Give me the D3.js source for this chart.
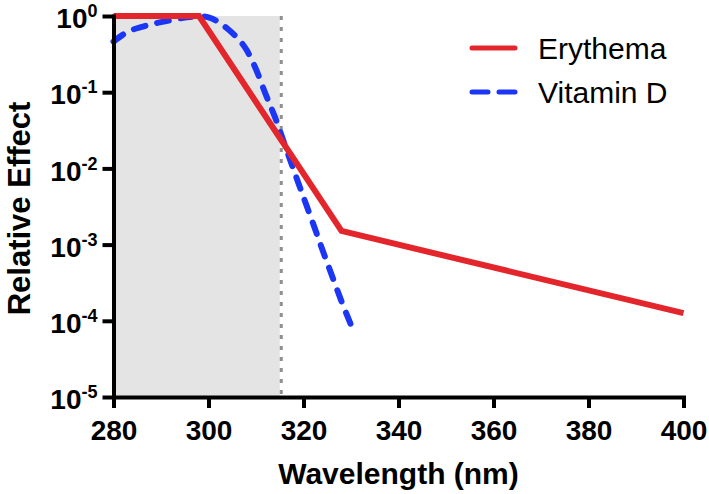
<!DOCTYPE html>
<html>
<head>
<meta charset="utf-8">
<script src="https://cdn.jsdelivr.net/npm/d3@7"></script>
<style>
  html, body { margin: 0; padding: 0; background: #fff; }
  svg { display: block; }
  text { font-family: "Liberation Sans", Arial, Helvetica, sans-serif; }
</style>
</head>
<body>
<svg id="chart" width="709" height="494"></svg>
<script>
// ---- data ----
const erythemaWavelength = [280, 298, 328, 400];
const erythemaValue      = [1, 1, 0.00151, 0.000126];

const vitDWavelength = [280, 282, 284, 286, 288, 290, 292, 294, 296, 298, 300, 302, 304, 306, 308, 310, 312, 314, 316, 318, 320, 322, 324, 326, 328, 330];
const vitDValue      = [0.46, 0.57, 0.66, 0.72, 0.78, 0.83, 0.88, 0.93, 0.97, 1.0, 0.96, 0.84, 0.68, 0.52, 0.36, 0.2, 0.095, 0.047, 0.021, 0.0093, 0.0042, 0.0019, 0.00085, 0.00039, 0.00018, 0.000088];

const xTicks = [280, 300, 320, 340, 360, 380, 400];
const yTicks = [1, 0.1, 0.01, 0.001, 0.0001, 0.00001];
const yTickExponents = ["0", "-1", "-2", "-3", "-4", "-5"];
const shadeRange = [280, 315];
const seriesNames = ["Erythema", "Vitamin D"];
const xTitle = "Wavelength (nm)";
const yTitle = "Relative Effect";

// ---- layout ----
const svg = d3.select("#chart");
const x = d3.scaleLinear().domain([280, 400]).range([113.5, 683.5]);
const y = d3.scaleLog().domain([1e-5, 1]).range([397, 16]);

const red = "#e3262b";
const blue = "#1c36f5";

// shaded region
svg.append("rect")
  .attr("x", x(shadeRange[0]))
  .attr("y", y(1))
  .attr("width", x(shadeRange[1]) - x(shadeRange[0]))
  .attr("height", y(1e-5) - y(1))
  .attr("fill", "#e4e4e4");

// dotted line
svg.append("line")
  .attr("x1", x(shadeRange[1]) + 1.5).attr("x2", x(shadeRange[1]) + 1.5)
  .attr("y1", y(1)).attr("y2", y(1e-5))
  .attr("stroke", "#8f8f8f")
  .attr("stroke-width", 3)
  .attr("stroke-dasharray", "4,7");

const line = d3.line().x(d => x(d[0])).y(d => y(d[1]));

// Vitamin D
svg.append("path")
  .datum(vitDWavelength.map((w, i) => [w, vitDValue[i]]))
  .attr("d", line.curve(d3.curveMonotoneX))
  .attr("fill", "none")
  .attr("stroke", blue)
  .attr("stroke-width", 6)
  .attr("stroke-linecap", "round")
  .attr("stroke-dasharray", "12,12");

// Erythema
svg.append("path")
  .datum(erythemaWavelength.map((w, i) => [w, erythemaValue[i]]))
  .attr("d", d3.line().x(d => x(d[0])).y(d => y(d[1]))(erythemaWavelength.map((w, i) => [w, erythemaValue[i]])))
  .attr("fill", "none")
  .attr("stroke", red)
  .attr("stroke-width", 6)
  .attr("stroke-linejoin", "miter");

// axes
const xAxis = svg.append("g")
  .attr("transform", `translate(0,${y(1e-5)})`)
  .call(d3.axisBottom(x).tickValues(xTicks).tickSize(11).tickSizeOuter(0).tickFormat(d3.format("d")));
xAxis.select(".domain").attr("stroke", "#000").attr("stroke-width", 4).attr("stroke-linecap", "square");
xAxis.selectAll(".tick line").attr("stroke", "#000").attr("stroke-width", 4);
xAxis.selectAll(".tick text")
  .attr("y", 43).attr("dy", 0)
  .attr("fill", "#000")
  .style("font-size", "28px").style("font-weight", "bold");

const yAxis = svg.append("g")
  .attr("transform", `translate(${x(280)},0)`)
  .call(d3.axisLeft(y).tickValues(yTicks).tickSize(11).tickSizeOuter(0).tickFormat(""));
yAxis.select(".domain").attr("stroke", "#000").attr("stroke-width", 4).attr("stroke-linecap", "square");
yAxis.selectAll(".tick line").attr("stroke", "#000").attr("stroke-width", 4);
yAxis.selectAll(".tick text").each(function(d, i) {
  const t = d3.select(this);
  t.text(null)
    .attr("x", -16).attr("dy", "0.42em")
    .attr("fill", "#000")
    .style("font-size", "28px").style("font-weight", "bold");
  t.append("tspan").text("10");
  t.append("tspan").attr("dy", -11).style("font-size", "18px").text(yTickExponents[i]);
});

// axis titles
svg.append("text")
  .attr("x", (x(280) + x(400)) / 2).attr("y", 484)
  .attr("text-anchor", "middle")
  .style("font-size", "30px").style("font-weight", "bold")
  .text(xTitle);

svg.append("text")
  .attr("transform", `translate(30,${(y(1) + y(1e-5)) / 2 + 2}) rotate(-90)`)
  .attr("text-anchor", "middle")
  .style("font-size", "31px").style("font-weight", "bold")
  .text(yTitle);

// legend
const legend = svg.append("g");
const legendY = [48, 92];
legend.append("line")
  .attr("x1", 472).attr("x2", 515).attr("y1", legendY[0]).attr("y2", legendY[0])
  .attr("stroke", red).attr("stroke-width", 5).attr("stroke-linecap", "round");
legend.append("line")
  .attr("x1", 472).attr("x2", 515).attr("y1", legendY[1]).attr("y2", legendY[1])
  .attr("stroke", blue).attr("stroke-width", 5).attr("stroke-linecap", "round")
  .attr("stroke-dasharray", "16,11");
seriesNames.forEach((name, i) => {
  legend.append("text")
    .attr("x", 538).attr("y", legendY[i] + 10.5)
    .style("font-size", "30px")
    .attr("fill", "#000")
    .text(name);
});
</script>
</body>
</html>
